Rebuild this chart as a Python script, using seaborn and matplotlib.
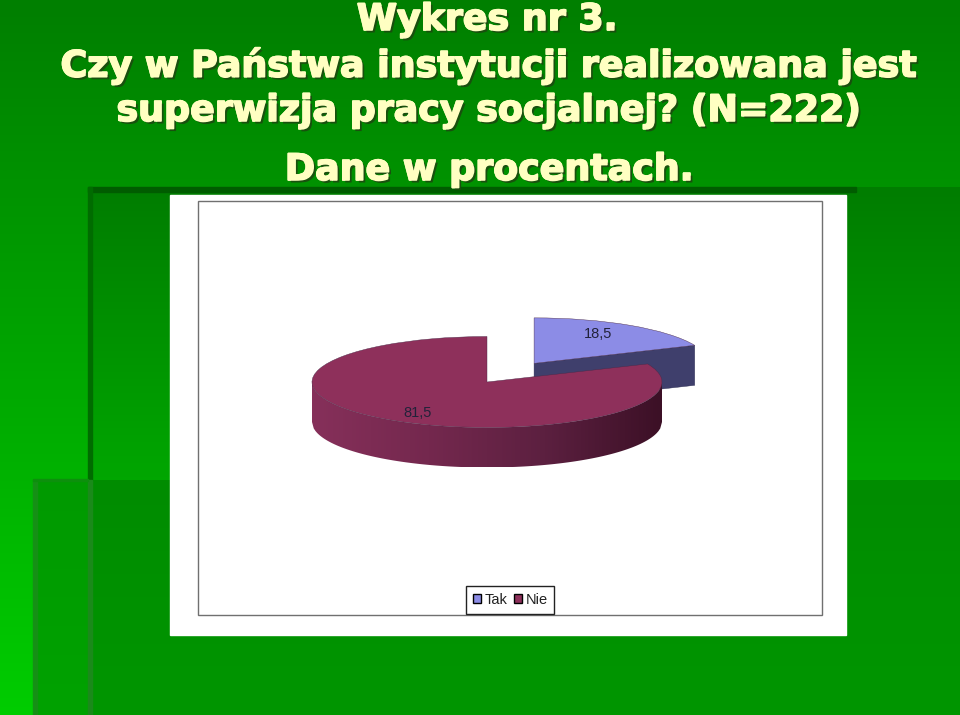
import numpy as np
import matplotlib
matplotlib.use('Agg')
import matplotlib.pyplot as plt
import matplotlib.patheffects as pe
from matplotlib.patches import Rectangle, Polygon, Patch
import seaborn as sns

# values
categories = ['Tak', 'Nie']
values = [18.5, 81.5]
title_lines = ['Wykres nr 3.',
               'Czy w Państwa instytucji realizowana jest',
               'superwizja pracy socjalnej? (N=222)',
               'Dane w procentach.']

sns.set_theme(style='white')
plt.rcParams['font.family'] = ['Liberation Sans', 'DejaVu Sans']

W, H = 960, 715
fig = plt.figure(figsize=(W / 100, H / 100), dpi=100)

# background, in pixel coordinates
bg = fig.add_axes([0, 0, 1, 1])
bg.set_axis_off()


def grad(x0, x1, y0, y1, c0, c1, z=0):
    cmap = sns.blend_palette([c0, c1], as_cmap=True)
    bg.imshow(np.linspace(0, 1, 64)[:, None], cmap=cmap, aspect='auto',
              extent=(x0, x1, y1, y0), zorder=z, interpolation='bilinear')


grad(0, W, 0, H, '#007f00', '#00cc00')
grad(88, W, 187, 480, '#007d00', '#00a600', 1)
grad(33, 88, 480, H, '#009a00', '#00a200', 2)
grad(88, W, 480, H, '#008c00', '#009600', 2)
bg.add_patch(Rectangle((88, 187), 768, 5, color='#005c00', zorder=3))
bg.add_patch(Rectangle((88, 187), 4, 293, color='#006c00', zorder=3))
bg.add_patch(Rectangle((88, 480), 4, 235, color='#1a8a1a', zorder=3))
bg.add_patch(Rectangle((33, 480), 4, 235, color='#159015', zorder=3))
bg.add_patch(Rectangle((33, 479), 55, 2, color='#0c900c', zorder=3))

# white slide picture and chart frame
bg.add_patch(Rectangle((170, 195), 676, 440, color='white', zorder=4))
bg.add_patch(Rectangle((198, 201), 624, 414, fill=False, ec='#707070', lw=1, zorder=5))
bg.set_xlim(0, W)
bg.set_ylim(H, 0)

# title
shadow = [pe.withStroke(linewidth=1.1, foreground='#ffffc2'),
          pe.withSimplePatchShadow(offset=(1.8, -1.8), shadow_rgbFace='#1c4a10', alpha=0.9),
          pe.Stroke(linewidth=1.1, foreground='#ffffc2'),
          pe.Normal()]
title_pos = [(487, 20), (488, 66), (488, 111), (489, 170)]
for line, (tx, ty) in zip(title_lines, title_pos):
    bg.text(tx, ty, line, ha='center', va='center', fontsize=26.2, fontweight='bold',
            family='DejaVu Sans', color='#ffffc2', path_effects=shadow, zorder=6)

# pie, squashed so one radius is 175 px wide and 45.5 px tall
cx, cy, rx, ry, depth = 487, 382, 175, 45.5, 40 / 45.5
ax = fig.add_axes([(cx - 2 * rx) / W, 1 - (cy + 3 * ry) / H, 4 * rx / W, 6 * ry / H])
ax.patch.set_alpha(0)
explode = [0.49, 0]
top_colors = ['#8c8ce6', '#8e305b']
wedges, _ = ax.pie(values, explode=explode, startangle=90, counterclock=False,
                   colors=top_colors, wedgeprops={'linewidth': 0.3, 'edgecolor': '#4a2a48'})
for w in wedges:
    w.set_zorder(3)

# cut face of the exploded slice
ang = values[0] / 100 * 2 * np.pi
off = (explode[0] * np.sin(ang / 2), explode[0] * np.cos(ang / 2))
p0 = (off[0], off[1])
p1 = (off[0] + np.sin(ang), off[1] + np.cos(ang))
ax.add_patch(Polygon([p0, p1, (p1[0], p1[1] - depth), (p0[0], p0[1] - depth)],
                     fc='#3f3f6c', ec='#2a2a50', lw=0.3, zorder=1))

# rim of the big slice with its left to right shading
xs = np.linspace(-1, 1, 200)
low = -np.sqrt(1 - xs ** 2)
band = np.r_[np.c_[xs, low], np.c_[xs[::-1], low[::-1] - depth]]
rim = Polygon(band, fc='none', ec='none', transform=ax.transData)
ax.add_patch(rim)
rim_cmap = sns.blend_palette(['#86305a', '#74284e', '#5c2040', '#3c1026'], as_cmap=True)
img = ax.imshow(np.linspace(0, 1, 200)[None, :], cmap=rim_cmap, aspect='auto',
                extent=(-1, 1, -1 - depth, 0), zorder=2)
img.set_clip_path(rim)
ax.set_xlim(-2, 2)
ax.set_ylim(-3, 3)
ax.set_aspect('auto')

label_pos = [(0.634, 1.05), (-0.394, -0.68)]
for v, (lx, ly) in zip(values, label_pos):
    ax.text(lx, ly, f'{v:.1f}'.replace('.', ','), ha='center', va='center',
            fontsize=10.5, color='#22223a', zorder=5)

handles = [Patch(fc=c, ec='black', lw=1) for c in top_colors]
leg = fig.legend(handles, categories, ncol=2, loc='center',
                 bbox_to_anchor=(510 / W, 1 - 600 / H), fontsize=10.5,
                 handlelength=0.55, handleheight=0.6, handletextpad=0.25,
                 columnspacing=0.45, borderpad=0.45, fancybox=False,
                 framealpha=1, edgecolor='#222222', labelcolor='#222222',
                 borderaxespad=0)
leg.get_frame().set_linewidth(1)

fig.savefig('out.png', dpi=100)
